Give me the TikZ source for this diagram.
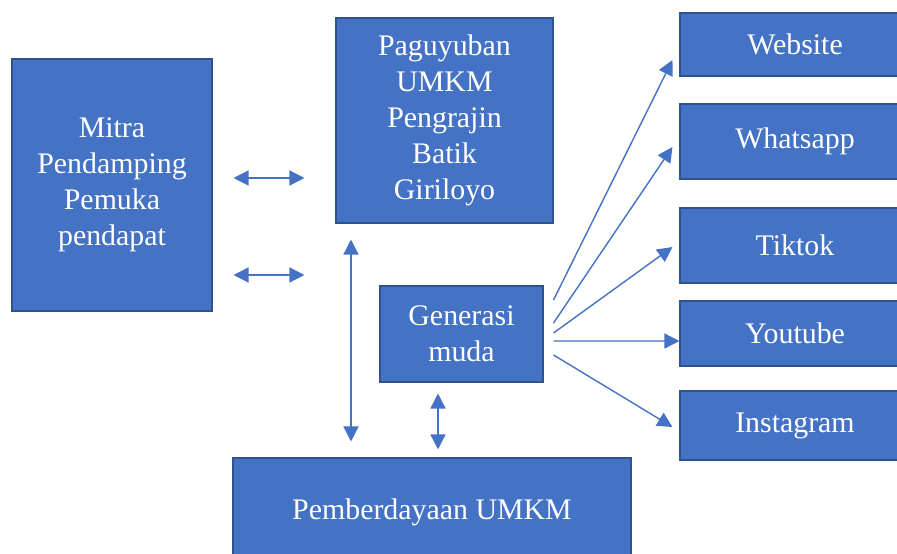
\documentclass[tikz,border=0pt]{standalone}
\usepackage{fontspec}
\setmainfont{Liberation Serif}
\usetikzlibrary{positioning,arrows.meta,calc}
\definecolor{umkmBlue}{RGB}{68,114,196}
\definecolor{umkmEdge}{RGB}{47,82,143}

\begin{document}
\begin{tikzpicture}[font=\fontsize{17}{20.4}\selectfont,
  box/.style={draw=umkmEdge, line width=0.6pt, fill=umkmBlue, text=white, align=center, inner sep=0pt},
  media/.style={box, minimum width=4.6cm},
  link/.style={draw=umkmBlue, line width=0.8pt, -{Triangle[length=0.3cm,width=0.3cm]}},
  twoway/.style={link, {Triangle[length=0.3cm,width=0.3cm]}-{Triangle[length=0.3cm,width=0.3cm]}}]
% page: 897x554 px -> 17.94 x 11.08 cm
\useasboundingbox (0,0) rectangle (17.94,11.08);
% main boxes
\node[box, minimum width=4.0cm, minimum height=5.04cm] (mitra) at (2.24,7.38) {Mitra\\Pendamping\\Pemuka\\pendapat};
\node[box, minimum width=4.34cm, minimum height=4.10cm] (pag) at (8.89,8.67) {Paguyuban\\UMKM\\Pengrajin\\Batik\\Giriloyo};
\node[box, minimum width=3.26cm, minimum height=1.92cm] (gen) at (9.23,4.40) {Generasi\\muda};
\node[box, minimum width=7.96cm, minimum height=2.16cm] (pemb) at (8.64,0.84) {Pemberdayaan UMKM};
% media boxes (cut by the right edge)
\node[media, minimum height=1.26cm] (web) at (15.90,10.19) {Website};
\node[media, minimum height=1.50cm] (wa) at (15.90,8.25) {Whatsapp};
\node[media, minimum height=1.50cm] (tt) at (15.90,6.17) {Tiktok};
\node[media, minimum height=1.30cm] (yt) at (15.90,4.41) {Youtube};
\node[media, minimum height=1.38cm] (ig) at (15.90,2.57) {Instagram};
% two-way links
\draw[twoway, shorten <=0.42cm, shorten >=0.62cm] (mitra.east |- 0,7.52) -- (pag.west |- 0,7.52);
\draw[twoway, shorten <=0.42cm, shorten >=0.62cm] (mitra.east |- 0,5.58) -- (pag.west |- 0,5.58);
\draw[twoway, shorten <=0.32cm, shorten >=0.32cm] (pag.south -| 7.02,0) -- (pemb.north -| 7.02,0);
\draw[twoway, shorten <=0.22cm, shorten >=0.16cm] (gen.south -| 8.76,0) -- (pemb.north -| 8.76,0);
% fan to media
\foreach \m/\s/\e/\dx in {web/0.68/-0.31/-0.14, wa/0.22/-0.11/-0.14, tt/0.02/-0.03/-0.14, yt/-0.14/-0.15/0, ig/-0.42/-0.03/-0.14}
  \draw[link] ($(gen.east)+(0.2,\s)$) -- ($(\m.west)+(\dx,\e)$);
\end{tikzpicture}
\end{document}
